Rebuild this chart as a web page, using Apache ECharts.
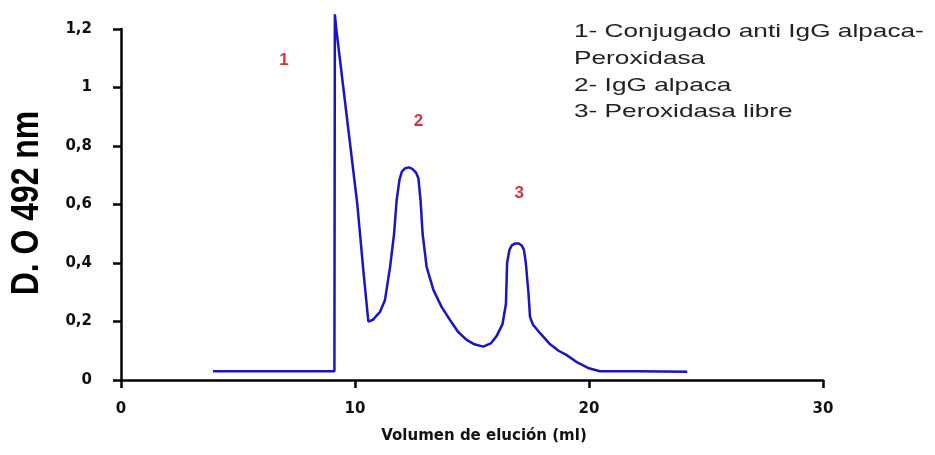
<!DOCTYPE html>
<html>
<head>
<meta charset="utf-8">
<script src="https://cdn.jsdelivr.net/npm/echarts@6/dist/echarts.min.js"></script>
<style>
  html, body { margin: 0; padding: 0; background: #fff; }
  #main { width: 935px; height: 455px; }
</style>
</head>
<body>
<div id="main"></div>
<script>
// elution profile (volume ml, OD 492 nm)
var volumen = [3.93, 9.12, 9.14, 9.2, 9.5, 9.8, 10.1, 10.35, 10.57, 10.75, 11.07, 11.28, 11.5, 11.67, 11.78, 11.9, 12.0, 12.15, 12.3, 12.45, 12.6, 12.71, 12.8, 12.89, 13.06, 13.35, 13.7, 14.06, 14.4, 14.77, 15.1, 15.48, 15.8, 16.05, 16.3, 16.45, 16.5, 16.6, 16.7, 16.85, 17.0, 17.12, 17.22, 17.3, 17.41, 17.48, 17.6, 17.91, 18.3, 18.7, 19.05, 19.5, 20.0, 20.47, 22.0, 24.2];
var densidad = [0.03, 0.03, 1.25, 1.2, 1.0, 0.8, 0.6, 0.38, 0.2, 0.205, 0.233, 0.273, 0.387, 0.5, 0.615, 0.684, 0.712, 0.724, 0.727, 0.722, 0.71, 0.69, 0.615, 0.5, 0.387, 0.308, 0.25, 0.205, 0.165, 0.137, 0.122, 0.114, 0.125, 0.15, 0.19, 0.26, 0.4, 0.445, 0.46, 0.467, 0.467, 0.46, 0.445, 0.4, 0.3, 0.216, 0.19, 0.16, 0.125, 0.1, 0.085, 0.06, 0.04, 0.03, 0.03, 0.028];

// peak numbers
var picos = ['1', '2', '3'];
var picosX = [6.97, 12.71, 17.02];
var picosY = [1.092, 0.883, 0.638];

var leyenda = ['1- Conjugado anti IgG alpaca-', 'Peroxidasa', '2- IgG alpaca', '3- Peroxidasa libre'];
var xTicks = [0, 10, 20, 30];
var yTicks = [0, 0.2, 0.4, 0.6, 0.8, 1, 1.2];

var myChart = echarts.init(document.getElementById('main'));

var curva = volumen.map(function (v, i) { return [v, densidad[i]]; });
var etiquetas = picos.map(function (p, i) { return { name: p, value: [picosX[i], picosY[i]] }; });

var ejeEstilo = { show: true, lineStyle: { color: '#000', width: 2.5 } };
var tickEstilo = { show: true, inside: false, length: 8, lineStyle: { color: '#000', width: 2.5 } };

var textosLeyenda = leyenda.map(function (t, i) {
  return {
    type: 'text',
    x: 574,
    y: [32, 59, 86, 112][i],
    scaleX: 1.38,
    style: {
      text: t,
      font: '19px "Liberation Sans", Arial, sans-serif',
      fill: '#222',
      textAlign: 'left',
      textVerticalAlign: 'middle'
    }
  };
});

var option = {
  backgroundColor: '#fff',
  animation: false,
  grid: { left: 121, right: 112, top: 29, bottom: 75 },
  xAxis: {
    type: 'value',
    min: xTicks[0],
    max: xTicks[xTicks.length - 1],
    interval: 10,
    axisLine: ejeEstilo,
    axisTick: tickEstilo,
    splitLine: { show: false },
    axisLabel: {
      margin: 22,
      color: '#111',
      fontFamily: 'DejaVu Sans',
      fontWeight: 'bold',
      fontSize: 15
    }
  },
  yAxis: {
    type: 'value',
    min: yTicks[0],
    max: yTicks[yTicks.length - 1],
    interval: 0.2,
    axisLine: ejeEstilo,
    axisTick: tickEstilo,
    splitLine: { show: false },
    axisLabel: {
      margin: 29,
      color: '#111',
      fontFamily: 'DejaVu Sans',
      fontWeight: 'bold',
      fontSize: 15,
      formatter: function (v) { return String(+v.toFixed(1)).replace('.', ','); }
    }
  },
  graphic: [
    {
      type: 'text',
      x: 28,
      y: 203,
      rotation: Math.PI / 2,
      scaleX: 0.84,
      style: {
        text: 'D. O 492 nm',
        font: 'bold 38px "Liberation Sans", Arial, sans-serif',
        fill: '#000',
        textAlign: 'center',
        textVerticalAlign: 'middle'
      }
    },
    {
      type: 'text',
      x: 484,
      y: 436,
      style: {
        text: 'Volumen de elución (ml)',
        font: 'bold 15px "DejaVu Sans", sans-serif',
        fill: '#111',
        textAlign: 'center',
        textVerticalAlign: 'middle'
      }
    }
  ].concat(textosLeyenda),
  series: [
    {
      type: 'line',
      data: curva,
      showSymbol: false,
      clip: false,
      lineStyle: { color: '#1616c8', width: 2.5 }
    },
    {
      type: 'scatter',
      data: etiquetas,
      symbolSize: 0,
      label: {
        show: true,
        position: 'inside',
        formatter: '{b}',
        color: '#cc0000',
        fontFamily: '"Liberation Sans", Arial, sans-serif',
        fontWeight: 'bold',
        fontSize: 17
      }
    }
  ]
};
myChart.setOption(option);
</script>
</body>
</html>
